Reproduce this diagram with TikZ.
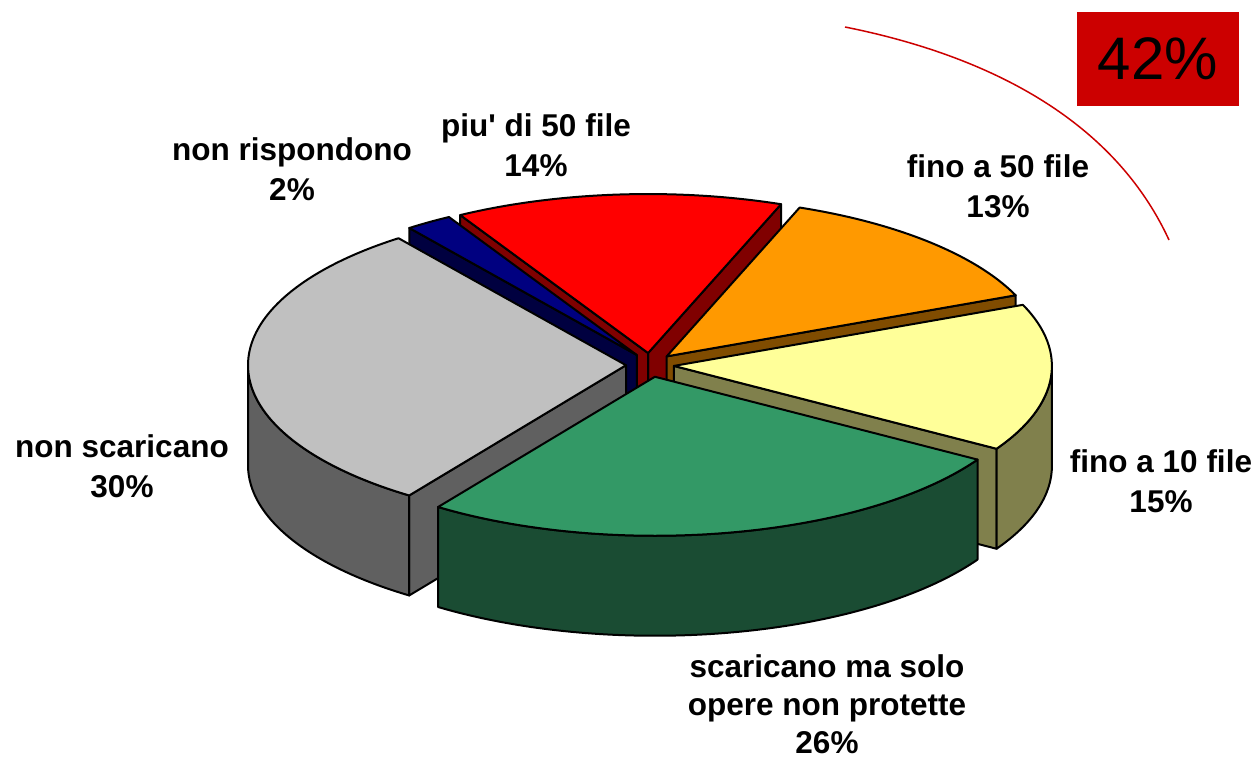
\documentclass[tikz,border=0pt]{standalone}
\usepackage{fontspec}
\setmainfont{Liberation Sans}[Ligatures=TeXOff]
\definecolor{grayTop}{HTML}{C0C0C0}
\definecolor{graySide}{HTML}{606060}
\definecolor{blueTop}{HTML}{000080}
\definecolor{blueSide}{HTML}{000040}
\definecolor{redTop}{HTML}{FF0000}
\definecolor{redSide}{HTML}{800000}
\definecolor{orTop}{HTML}{FF9900}
\definecolor{orSide}{HTML}{804C00}
\definecolor{yeTop}{HTML}{FFFF99}
\definecolor{yeSide}{HTML}{80804C}
\definecolor{grTop}{HTML}{339966}
\definecolor{grSide}{HTML}{1A4C33}
\definecolor{boxRed}{HTML}{CC0000}
\newcommand\pieWall[3]{%
  \path[edge,fill=#3] (#1) -- ++(#2:378pt and 159pt) -- ++(0pt,-100pt) -- ++(#2+180:378pt and 159pt) -- cycle;}
\newcommand\pieSide[4]{%
  \path[edge,fill=#4] (#1) ++(#2:378pt and 159pt) arc[start angle=#2,end angle=#3,x radius=378pt,y radius=159pt] -- ++(0pt,-100pt) arc[start angle=#3,end angle=#2,x radius=378pt,y radius=159pt] -- cycle;}
\newcommand\pieTop[4]{%
  \path[edge,fill=#4] (#1) -- ++(#2:378pt and 159pt) arc[start angle=#2,end angle=#3,x radius=378pt,y radius=159pt] -- cycle;}
\begin{document}
\begin{tikzpicture}[x=1pt,y=1pt,
  edge/.style={draw=black,line width=2pt,line join=round},
  lbl/.style={font=\fontsize{31.5}{40}\selectfont\bfseries,align=center,inner sep=0pt,anchor=north}]
\useasboundingbox (0,0) rectangle (1253,-763);
% slice apexes (exploded)
\coordinate (Ar) at ({650+24*cos(94.6)},{-365+12*sin(94.6)});
\coordinate (Ao) at ({650+24*cos(46)},{-365+12*sin(46)});
\coordinate (Ay) at ({650+24*cos(-4.4)},{-365+12*sin(-4.4)});
\coordinate (Ab) at ({650+24*cos(123.4)},{-365+12*sin(123.4)});
\coordinate (Ag) at ({650+24*cos(181)},{-365+12*sin(181)});
\coordinate (Ae) at ({650+24*cos(281.8)},{-365+12*sin(281.8)});
% red
\pieWall{Ar}{69.4}{redSide}
\pieWall{Ar}{119.8}{redSide}
\pieTop{Ar}{69.4}{119.8}{redTop}
% orange
\pieWall{Ao}{22.6}{orSide}
\pieTop{Ao}{22.6}{69.4}{orTop}
% yellow
\pieWall{Ay}{-31.4}{yeSide}
\pieSide{Ay}{-31.4}{0}{yeSide}
\pieTop{Ay}{-31.4}{22.6}{yeTop}
% blue
\pieWall{Ab}{127}{blueSide}
\pieTop{Ab}{119.8}{127}{blueTop}
% gray
\pieWall{Ag}{235}{graySide}
\pieSide{Ag}{180}{235}{graySide}
\pieTop{Ag}{127}{235}{grayTop}
% green
\pieSide{Ae}{235}{328.6}{grSide}
\pieTop{Ae}{235}{328.6}{grTop}
% labels
\node[lbl] (lNR) at (292,-137) {non rispondono\\2\%};
\node[lbl] (lP50) at (536,-113) {piu' di 50 file\\14\%};
\node[lbl] (lF50) at (998,-154) {fino a 50 file\\13\%};
\node[lbl] (lF10) at (1161,-449) {fino a 10 file\\15\%};
\node[lbl] (lNS) at (122,-434) {non scaricano\\30\%};
\node[lbl,font=\fontsize{31.5}{38}\selectfont\bfseries] (lSC) at (827,-654) {scaricano ma solo\\opere non protette\\26\%};
% 42% box and arc
\node[fill=boxRed,minimum width=162pt,minimum height=94pt,inner sep=0pt,font=\fontsize{60}{60}\selectfont] (bx) at (1158,-59) {42\%};
\coordinate (arcA) at (845,-27);
\coordinate (arcB) at (1169,-240);
\draw[boxRed,line width=1.5pt] (arcA) .. controls (975,-53) and (1110,-112) .. (arcB);
\end{tikzpicture}
\end{document}
